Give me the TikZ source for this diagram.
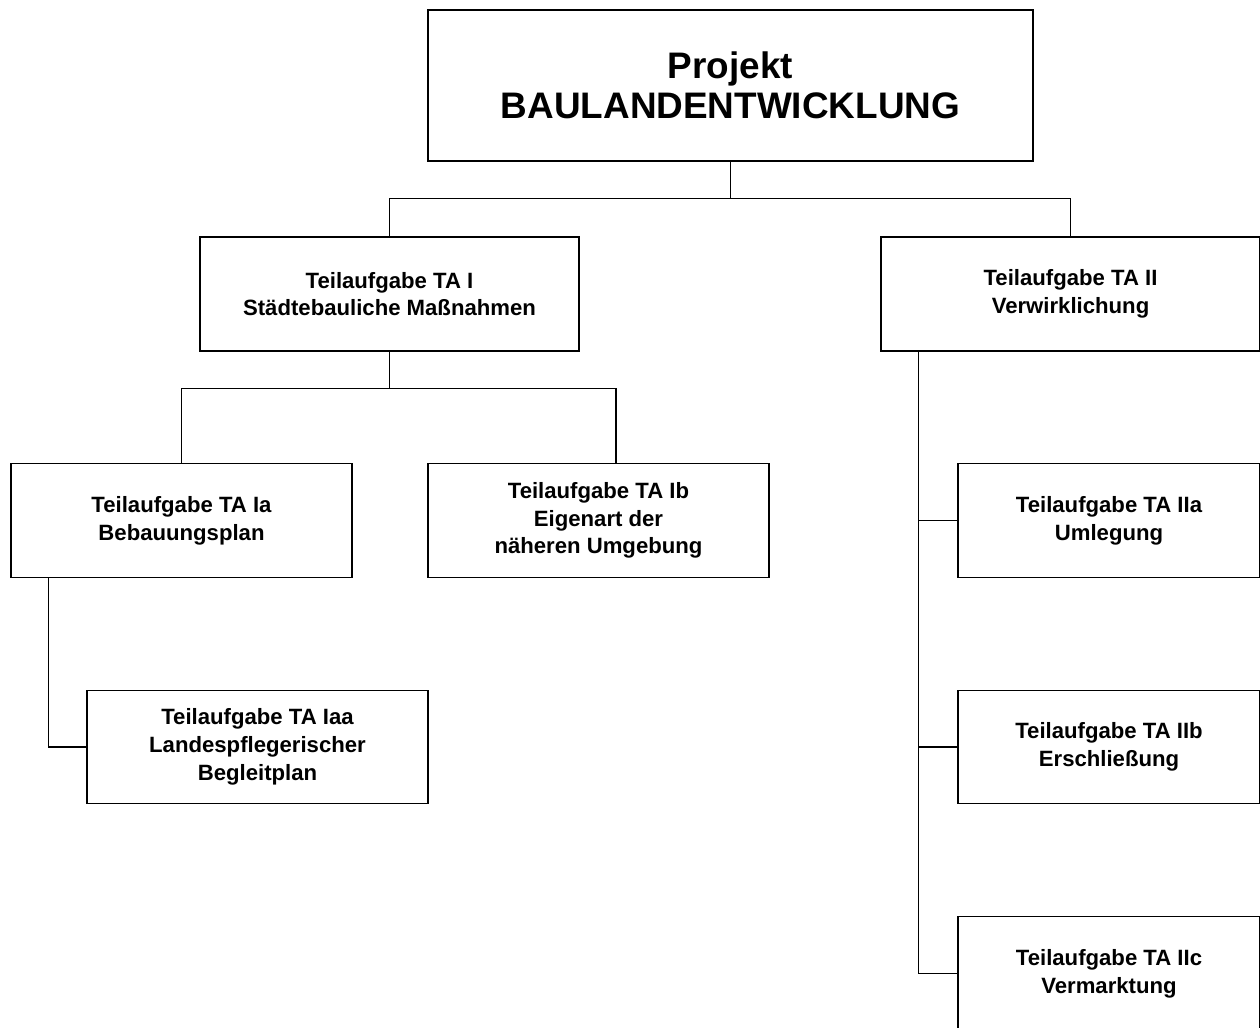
\documentclass[tikz,border=0pt]{standalone}
\usepackage{fontspec}
\setmainfont{Liberation Sans}
\usetikzlibrary{calc,positioning}

\begin{document}
\begin{tikzpicture}[
        font=\bfseries\fontsize{12.6}{15.8}\selectfont,
        line width=0.8pt,
        title/.style={draw, align=center, minimum width=12.1cm, minimum height=3.02cm, font=\bfseries\fontsize{21}{23}\selectfont},
        task/.style={draw, align=center, minimum width=6.82cm, minimum height=2.27cm},
        mainTask/.style={task, minimum width=7.58cm, minimum height=2.28cm},
        subTask/.style={task, minimum width=6.04cm},
        link/.style={draw=black},
    ]
    \useasboundingbox (0,0) rectangle (25.2,-20.56);

    % Project
    \node[title] (proj) at (14.61,-1.71) {Projekt\\BAULANDENTWICKLUNG};

    % Level 1
    \node[mainTask] (taI) at (7.79,-5.88) {Teilaufgabe TA I\\Städtebauliche Maßnahmen};
    \node[mainTask] (taII) at (21.41,-5.88) {Teilaufgabe TA II\\Verwirklichung};

    % Level 2
    \node[task] (taIa) at (3.63,-10.41) {Teilaufgabe TA Ia\\Bebauungsplan};
    \node[task] (taIb) at (11.97,-10.41) {Teilaufgabe TA Ib\\Eigenart der\\näheren Umgebung};
    \node[task] (taIaa) at (5.15,-14.94) {Teilaufgabe TA Iaa\\Landespflegerischer\\Begleitplan};

    \node[subTask] (taIIa) at (22.18,-10.41) {Teilaufgabe TA IIa\\Umlegung};
    \node[subTask] (taIIb) at (22.18,-14.94) {Teilaufgabe TA IIb\\Erschließung};
    \node[subTask] (taIIc) at (22.18,-19.47) {Teilaufgabe TA IIc\\Vermarktung};

    % Lines
    \coordinate (j1) at ($(proj.south)+(0,-0.74)$);
    \draw[link] (proj) -- (j1);
    \draw[link] (j1) -| (taI);
    \draw[link] (j1) -| (taII);

    \coordinate (j2) at ($(taI.south)+(0,-0.74)$);
    \draw[link] (taI) -- (j2);
    \draw[link] (j2) -| (taIa);
    \draw[link] (j2) -| ([xshift=0.35cm]taIb.north);

    \draw[link] ([xshift=0.76cm]taIa.south west) |- (taIaa.west);

    \coordinate (bus) at ([xshift=0.76cm]taII.south west);
    \draw[link] (bus) |- (taIIc.west);
    \draw[link] (taIIa.west) -- (taIIa.west -| bus);
    \draw[link] (taIIb.west) -- (taIIb.west -| bus);

\end{tikzpicture}
\end{document}
